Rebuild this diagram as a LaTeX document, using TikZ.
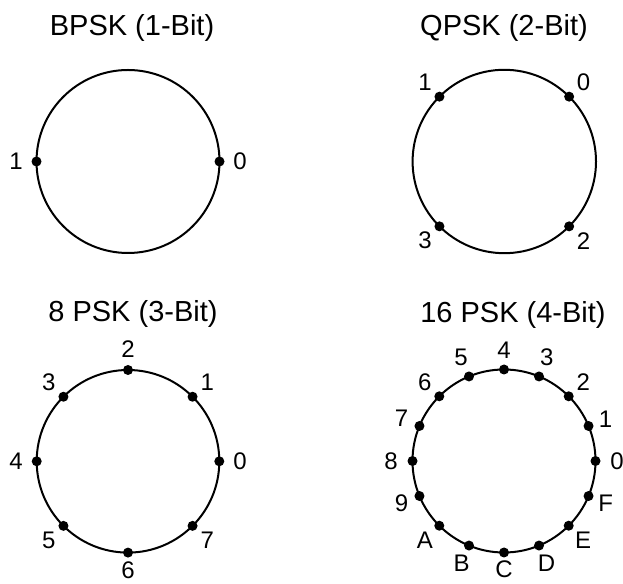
\documentclass[tikz,border=0pt]{standalone}
\usepackage{fontspec}
\setmainfont{Liberation Sans}
\usetikzlibrary{positioning}

\begin{document}
\begin{tikzpicture}[x=1pt, y=1pt,
    ring/.style={line width=2pt},
    symbol/.style={circle, fill=black, inner sep=0pt, minimum size=10pt},
    bits/.style={font=\fontsize{24}{24}\selectfont, inner sep=0pt},
    heading/.style={font=\fontsize{29}{29}\selectfont, inner sep=0pt, anchor=base},
]
    \useasboundingbox (0,0) rectangle (623,583);

    % BPSK
    \node[heading] (bpsk title) at (132, 547) {BPSK (1-Bit)};
    \begin{scope}[shift={(128, 421.5)}]
        \coordinate (bpsk) at (0, 0);
        \draw[ring] (bpsk) circle (91.5);
        \foreach \a/\t in {0/0, 180/1} {
            \node[symbol] (bpsk-\t) at (\a:91.5) {};
            \node[bits] (bpsk-lbl-\t) at (\a:112) {\t};
        }
    \end{scope}

    % QPSK
    \node[heading] (qpsk title) at (504, 547) {QPSK (2-Bit)};
    \begin{scope}[shift={(504.3, 421.5)}]
        \coordinate (qpsk) at (0, 0);
        \draw[ring] (qpsk) circle (91.7);
        \foreach \a/\t in {45/0, 135/1, 225/3, 315/2} {
            \node[symbol] (qpsk-\t) at (\a:91.7) {};
            \node[bits] (qpsk-lbl-\t) at (\a:112) {\t};
        }
    \end{scope}

    % 8 PSK
    \node[heading] (psk8 title) at (133, 261) {8 PSK (3-Bit)};
    \begin{scope}[shift={(128, 121.7)}]
        \coordinate (psk8) at (0, 0);
        \draw[ring] (psk8) circle (91.3);
        \foreach \t/\r in {0/112, 1/112, 2/112, 3/112, 4/112, 5/112, 6/109, 7/112} {
            \node[symbol] (psk8-\t) at (45*\t:91.3) {};
            \node[bits] (psk8-lbl-\t) at (45*\t:\r) {\t};
        }
    \end{scope}

    % 16 PSK
    \node[heading] (psk16 title) at (513, 260) {16 PSK (4-Bit)};
    \begin{scope}[shift={(504, 122)}]
        \coordinate (psk16) at (0, 0);
        \draw[ring] (psk16) circle (91.5);
        \foreach \k/\t/\r in {0/0/113, 1/1/110, 2/2/112, 3/3/112, 4/4/111, 5/5/112,
                              6/6/112, 7/7/111, 8/8/113, 9/9/111, 10/A/112, 11/B/111,
                              12/C/108, 13/D/111, 14/E/112, 15/F/110} {
            \node[symbol] (psk16-\t) at (22.5*\k:91.5) {};
            \node[bits] (psk16-lbl-\t) at (22.5*\k:\r) {\t};
        }
    \end{scope}
\end{tikzpicture}
\end{document}
